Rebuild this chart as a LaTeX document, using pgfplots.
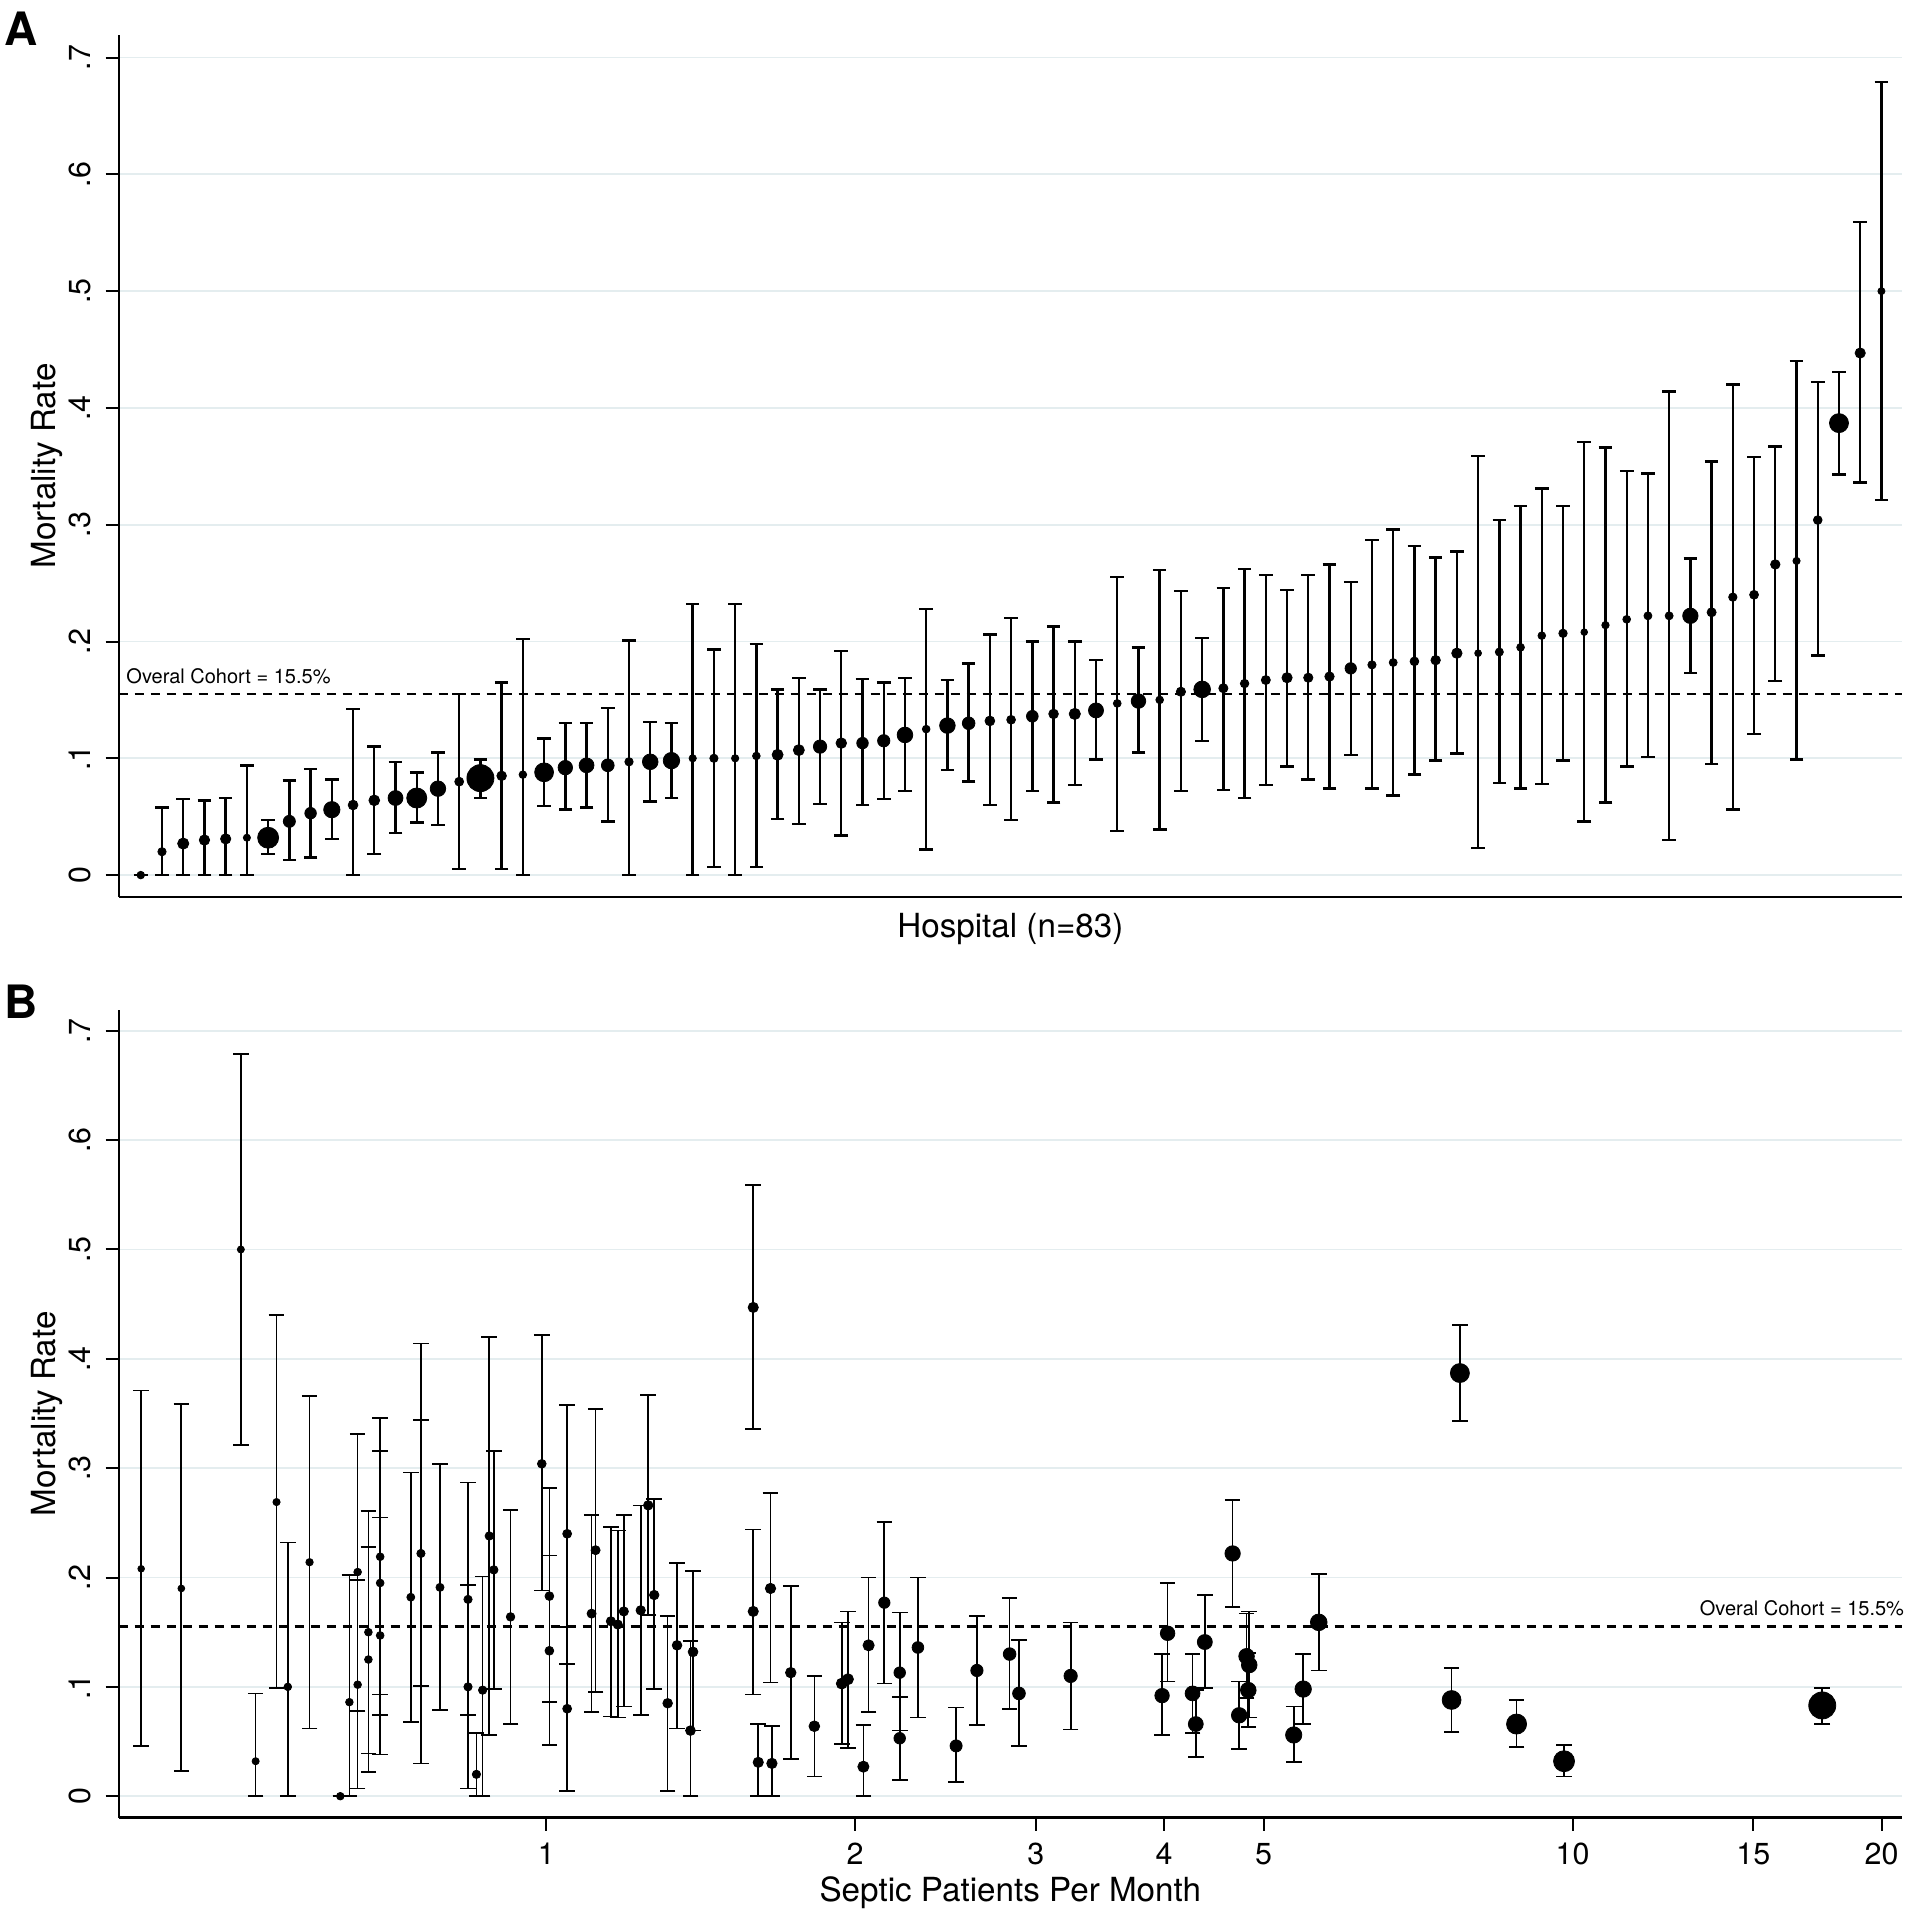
\documentclass[border=0pt]{standalone}
\usepackage{fontspec}
\setmainfont{TeX Gyre Heros}
\usepackage{pgfplots}
\pgfplotsset{compat=1.18}
\usepackage{pgfplotstable}
\definecolor{gridc}{RGB}{228,237,239}
\pgfplotstableread{
r m ep em v s
1 0.000 0.000 0.000 0.630 0.944
2 0.020 0.038 0.020 0.855 1.038
3 0.027 0.038 0.027 2.037 1.399
4 0.030 0.034 0.030 1.659 1.299
5 0.031 0.035 0.031 1.609 1.285
6 0.032 0.062 0.032 0.521 0.893
7 0.032 0.015 0.014 9.81 2.621
8 0.046 0.035 0.033 2.508 1.511
9 0.053 0.038 0.038 2.210 1.441
10 0.056 0.026 0.025 5.349 2.034
11 0.060 0.082 0.060 1.382 1.218
12 0.064 0.046 0.046 1.825 1.344
13 0.066 0.031 0.030 4.294 1.861
14 0.066 0.022 0.021 8.819 2.505
15 0.074 0.031 0.031 4.733 1.935
16 0.080 0.075 0.075 1.048 1.109
17 0.083 0.016 0.017 17.51 3.376
18 0.085 0.080 0.080 1.313 1.197
19 0.086 0.116 0.086 0.643 0.950
20 0.088 0.029 0.029 7.623 2.355
21 0.092 0.038 0.036 3.982 1.806
22 0.094 0.036 0.036 4.263 1.856
23 0.094 0.049 0.048 2.888 1.593
24 0.097 0.104 0.097 0.867 1.043
25 0.097 0.034 0.034 4.831 1.951
26 0.098 0.032 0.032 5.464 2.051
27 0.100 0.132 0.100 0.560 0.912
28 0.100 0.093 0.093 0.839 1.032
29 0.100 0.132 0.100 0.560 0.912
30 0.102 0.096 0.095 0.655 0.955
31 0.103 0.056 0.055 1.941 1.374
32 0.107 0.062 0.063 1.968 1.381
33 0.110 0.049 0.049 3.243 1.666
34 0.113 0.079 0.079 1.731 1.318
35 0.113 0.055 0.053 2.210 1.441
36 0.115 0.050 0.050 2.628 1.538
37 0.120 0.049 0.048 4.841 1.953
38 0.125 0.103 0.103 0.671 0.962
39 0.128 0.039 0.038 4.812 1.948
40 0.130 0.051 0.050 2.828 1.581
41 0.132 0.074 0.072 1.390 1.220
42 0.133 0.087 0.086 1.007 1.095
43 0.136 0.064 0.064 2.302 1.463
44 0.138 0.075 0.076 1.341 1.205
45 0.138 0.062 0.061 2.061 1.405
46 0.141 0.043 0.042 4.382 1.876
47 0.147 0.108 0.109 0.689 0.970
48 0.149 0.046 0.044 4.031 1.815
49 0.150 0.111 0.111 0.671 0.962
50 0.157 0.086 0.085 1.174 1.152
51 0.159 0.044 0.044 5.658 2.081
52 0.160 0.086 0.087 1.156 1.146
53 0.164 0.098 0.098 0.923 1.064
54 0.167 0.090 0.090 1.107 1.130
55 0.169 0.075 0.076 1.591 1.280
56 0.169 0.088 0.087 1.190 1.157
57 0.170 0.096 0.096 1.236 1.172
58 0.177 0.074 0.074 2.135 1.423
59 0.180 0.107 0.106 0.839 1.032
60 0.182 0.114 0.114 0.738 0.991
61 0.183 0.099 0.097 1.007 1.095
62 0.184 0.088 0.086 1.274 1.184
63 0.190 0.087 0.086 1.654 1.297
64 0.190 0.169 0.167 0.441 0.851
65 0.191 0.113 0.112 0.788 1.012
66 0.195 0.121 0.121 0.689 0.970
67 0.205 0.126 0.127 0.655 0.955
68 0.207 0.109 0.109 0.889 1.051
69 0.208 0.163 0.162 0.403 0.830
70 0.214 0.152 0.152 0.588 0.925
71 0.219 0.127 0.126 0.689 0.970
72 0.222 0.122 0.121 0.755 0.998
73 0.222 0.192 0.192 0.755 0.998
74 0.222 0.049 0.049 4.664 1.924
75 0.225 0.129 0.130 1.117 1.133
76 0.238 0.182 0.182 0.880 1.048
77 0.240 0.118 0.119 1.048 1.109
78 0.266 0.101 0.100 1.257 1.179
79 0.269 0.171 0.170 0.546 0.905
80 0.304 0.118 0.116 0.990 1.089
81 0.387 0.044 0.044 7.767 2.374
82 0.447 0.112 0.111 1.591 1.280
83 0.500 0.179 0.179 0.504 0.884
}\hosp
\pgfplotsset{
  common/.style={
    scale only axis, width=445.825pt, anchor=north west, clip=false,
    axis x line*=bottom, axis y line*=left,
    axis line style={-, line width=0.55pt, black},
    ytick={0,0.1,0.2,0.3,0.4,0.5,0.6,0.7},
    yticklabels={0,.1,.2,.3,.4,.5,.6,.7},
    ymajorgrids, grid style={gridc, line width=0.45pt},
    tick align=outside, major tick length=3.25pt,
    tick style={black, line width=0.5pt},
    tick label style={font=\fontsize{7.6}{9}\selectfont},
    yticklabel style={rotate=90, anchor=south, inner sep=3.6pt},
    label style={font=\fontsize{8.3}{10}\selectfont},
    ylabel={Mortality Rate},
    ylabel style={at={(axis description cs:-0.0352,0.5)}, anchor=base},
  },
}
\begin{document}
\begin{tikzpicture}
\useasboundingbox (0,0) rectangle (479.25pt,-480pt);
% Panel A
\begin{axis}[common, at={(29.675pt,-8.75pt)}, height=215.425pt,
  ymin=-0.0185, ymax=0.7193,
  xmin=-0.04, xmax=83.97, xtick=\empty,
  xlabel={Hospital (n=83)},
  xlabel style={at={(axis description cs:0.5,-0.0468)}, anchor=base},
]
\addplot[black, line width=0.7pt, dash pattern=on 2.4pt off 1.6pt, forget plot]
  coordinates {(-0.04,0.155) (83.97,0.155)};
\addplot[draw=none, mark=none, forget plot,
  error bars/.cd, y dir=both, y explicit,
  error bar style={draw=black, line width=0.6pt, solid},
  error mark options={rotate=90, draw=black, line width=0.6pt, mark size=1.7pt}]
  table[x=r, y=m, y error plus=ep, y error minus=em] {\hosp};
\addplot[scatter, only marks, mark=*,
    scatter/use mapped color={draw=black, fill=black},
    mark options={line width=0.2pt},
    visualization depends on={\thisrow{s} \as \rad},
    scatter/@pre marker code/.append style={/tikz/mark size=\rad}]
  table[x=r, y=m] {\hosp};
\node[anchor=base west, font=\fontsize{5}{6}\selectfont, inner sep=0pt] at (axis cs:0.289,0.1642) {Overal Cohort = 15.5\%};
\node[anchor=base west, font=\bfseries\fontsize{11.5}{13}\selectfont, inner sep=0pt] at (axis description cs:-0.0647,0.9884) {A};
\end{axis}
% Panel B
\begin{axis}[common, at={(29.675pt,-252.5pt)}, height=201.875pt,
  ymin=-0.0195, ymax=0.719,
  xmode=log, xmin=0.3832, xmax=20.94,
  xtick={1,2,3,4,5,10,15,20}, xticklabels={1,2,3,4,5,10,15,20},
  xticklabel style={inner sep=3pt},
  xlabel={Septic Patients Per Month},
  xlabel style={at={(axis description cs:0.5,-0.1034)}, anchor=base},
]
\addplot[black, line width=0.7pt, dash pattern=on 2.4pt off 1.6pt, forget plot]
  coordinates {(0.3832,0.155) (20.94,0.155)};
\addplot[draw=none, mark=none, forget plot,
  error bars/.cd, y dir=both, y explicit,
  error bar style={draw=black, line width=0.42pt, solid},
  error mark options={rotate=90, draw=black, line width=0.42pt, mark size=1.95pt}]
  table[x=v, y=m, y error plus=ep, y error minus=em] {\hosp};
\addplot[scatter, only marks, mark=*,
    scatter/use mapped color={draw=black, fill=black},
    mark options={line width=0.2pt},
    visualization depends on={\thisrow{s} \as \rad},
    scatter/@pre marker code/.append style={/tikz/mark size=\rad}]
  table[x=v, y=m] {\hosp};
\node[anchor=base east, font=\fontsize{5}{6}\selectfont, inner sep=0pt] at (axis cs:21.07,0.1654) {Overal Cohort = 15.5\%};
\node[anchor=base west, font=\bfseries\fontsize{11.5}{13}\selectfont, inner sep=0pt] at (axis description cs:-0.0643,0.990) {B};
\end{axis}
\end{tikzpicture}
\end{document}
